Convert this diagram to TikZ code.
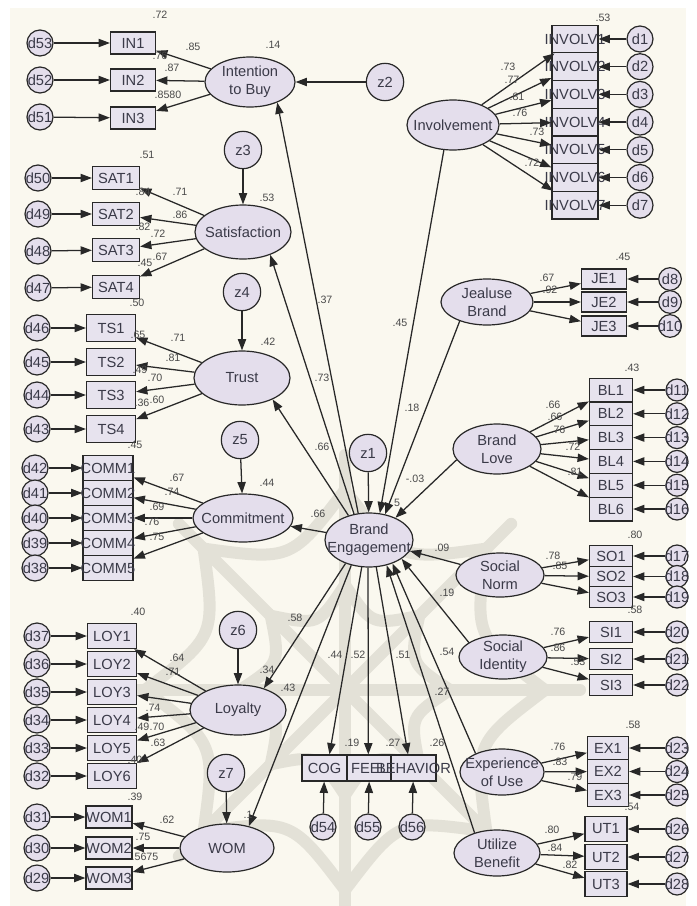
\documentclass[tikz,border=0pt]{standalone}
\usepackage{fontspec}
\setmainfont{Liberation Sans}
\usetikzlibrary{arrows.meta,shapes.geometric,calc}
\definecolor{bgcream}{HTML}{FAF8EF}
\definecolor{latfill}{HTML}{E4DEEC}
\definecolor{boxfill}{HTML}{E7E3EE}
\definecolor{linecol}{HTML}{282828}
\definecolor{txtcol}{HTML}{3A3A48}
\definecolor{labcol}{HTML}{4A4A4A}
\definecolor{wmark}{HTML}{E3E1D7}
\tikzset{
 lat/.style={ellipse, draw=linecol, line width=0.9pt, fill=latfill, inner sep=0pt},
 lattext/.style={font=\fontsize{11}{13.5}\selectfont, text=txtcol, align=center, inner sep=0pt},
 obs/.style={rectangle, draw=linecol, line width=0.9pt, fill=boxfill, inner sep=0pt},
 obstext/.style={font=\fontsize{11}{12}\selectfont, text=txtcol, inner sep=0pt},
 errc/.style={circle, draw=linecol, line width=0.9pt, fill=latfill, inner sep=0pt, minimum size=19.5pt},
 distc/.style={circle, draw=linecol, line width=0.9pt, fill=latfill, inner sep=0pt, minimum size=28pt},
 ctext/.style={font=\fontsize{11}{12}\selectfont, text=txtcol, inner sep=0pt},
 arr/.style={draw=linecol, line width=0.95pt, -{Triangle[length=8.5pt,width=6.2pt]}},
 coef/.style={font=\fontsize{8}{9}\selectfont, text=labcol, inner sep=0pt},
 wm/.style={draw=wmark, line width=9pt, line cap=round},
}
\newcommand\Lat[5]{\node[lat,minimum width=#3*0.75pt,minimum height=#4*0.75pt] (#1) at (#2) {};\node[lattext] (#1-t) at (#1) {#5};}
\newcommand\Obs[5]{\node[obs,minimum width=#3*0.75pt,minimum height=#4*0.75pt] (#1) at (#2) {};\node[obstext] (#1-t) at (#1) {#5};}
\newcommand\Err[4][]{\node[errc,#1] (#2) at (#3) {};\node[ctext] (#2-t) at (#2) {#4};}
\newcommand\Dist[3]{\node[distc] (#1) at (#2) {};\node[ctext] (#1-t) at (#1) {#3};}
\newcommand\Cf[3]{\node[coef] (#1) at (#2) {#3};}
\begin{document}
\begin{tikzpicture}[x=0.75pt,y=-0.75pt]
\useasboundingbox (0,0) rectangle (696,906);
\fill[white] (0,0) rectangle (696,906);
\fill[bgcream] (10,8) rectangle (686,906);
% ---- faint watermark ornament
\begin{scope}
\clip (10,8) rectangle (686,906);
\coordinate (wc) at (345,690);
\foreach \a in {0,45,...,315} \draw[wm] (wc) -- ($(wc)+(\a:235)$);
\foreach \a in {0,45,...,315} {
  \draw[wm] ($(wc)+(\a:105)$) .. controls ($(wc)+(\a+22.5:70)$) .. ($(wc)+(\a+45:105)$);
  \draw[wm] ($(wc)+(\a:200)$) .. controls ($(wc)+(\a+22.5:140)$) .. ($(wc)+(\a+45:200)$);
}
\end{scope}
% ---- latent variables
\Lat{itb}{250,82}{90}{50}{Intention\\to Buy}
\Lat{sat}{243,232}{96}{54}{Satisfaction}
\Lat{tr}{242,378}{96}{54}{Trust}
\Lat{com}{243,518}{100}{48}{Commitment}
\Lat{loy}{238,710}{96}{50}{Loyalty}
\Lat{wom}{227,848}{94}{48}{WOM}
\Lat{inv}{453,125}{92}{50}{Involvement}
\Lat{jb}{487,302}{92}{46}{Jealuse\\Brand}
\Lat{bl}{497,449}{88}{50}{Brand\\Love}
\Lat{sn}{500,575}{88}{44}{Social\\Norm}
\Lat{si}{503,657}{88}{44}{Social\\Identity}
\Lat{eu}{502,772}{84}{46}{Experience\\of Use}
\Lat{ub}{497,853}{86}{46}{Utilize\\Benefit}
\Lat{be}{369,540}{88}{54}{Brand\\Engagement}
% ---- disturbances
\Dist{z1}{368,453}{z1}
\Dist{z2}{385,82}{z2}
\Dist{z3}{243,150}{z3}
\Dist{z4}{242,292}{z4}
\Dist{z5}{240,440}{z5}
\Dist{z6}{238,630}{z6}
\Dist{z7}{226,773}{z7}
% ---- left indicators
\Obs{in1}{133,43}{45}{22}{IN1}
\Obs{in2}{133,80}{45}{22}{IN2}
\Obs{in3}{133,118}{45}{22}{IN3}
\Obs{sat1}{116,178}{47}{23}{SAT1}
\Obs{sat2}{116,214}{47}{23}{SAT2}
\Obs{sat3}{116,250}{47}{23}{SAT3}
\Obs{sat4}{116,287}{47}{23}{SAT4}
\Obs{ts1}{111,328}{49}{27}{TS1}
\Obs{ts2}{111,362}{49}{27}{TS2}
\Obs{ts3}{111,395}{49}{27}{TS3}
\Obs{ts4}{111,429}{49}{27}{TS4}
\Obs{cm1}{108,468}{50}{25}{COMM1}
\Obs{cm2}{108,493}{50}{25}{COMM2}
\Obs{cm3}{108,518}{50}{25}{COMM3}
\Obs{cm4}{108,543}{50}{25}{COMM4}
\Obs{cm5}{108,568}{50}{25}{COMM5}
\Obs{ly1}{112,636}{49}{25}{LOY1}
\Obs{ly2}{112,664}{49}{25}{LOY2}
\Obs{ly3}{112,692}{49}{25}{LOY3}
\Obs{ly4}{112,720}{49}{25}{LOY4}
\Obs{ly5}{112,748}{49}{25}{LOY5}
\Obs{ly6}{112,776}{49}{25}{LOY6}
\Obs{wm1}{109,817}{46}{22}{WOM1}
\Obs{wm2}{109,848}{46}{22}{WOM2}
\Obs{wm3}{109,878}{46}{22}{WOM3}
% ---- right indicators
\Obs{iv1}{575,39}{46}{27.7}{INVOLV1}
\Obs{iv2}{575,66.7}{46}{27.7}{INVOLV2}
\Obs{iv3}{575,94.4}{46}{27.7}{INVOLV3}
\Obs{iv4}{575,122.1}{46}{27.7}{INVOLV4}
\Obs{iv5}{575,149.8}{46}{27.7}{INVOLV5}
\Obs{iv6}{575,177.5}{46}{27.7}{INVOLV6}
\Obs{iv7}{575,205.2}{46}{27.7}{INVOLV7}
\Obs{je1}{604,279}{45}{20}{JE1}
\Obs{je2}{604,302}{45}{20}{JE2}
\Obs{je3}{604,326}{45}{20}{JE3}
\Obs{bl1}{611,390}{43}{23.8}{BL1}
\Obs{bl2}{611,413.8}{43}{23.8}{BL2}
\Obs{bl3}{611,437.6}{43}{23.8}{BL3}
\Obs{bl4}{611,461.4}{43}{23.8}{BL4}
\Obs{bl5}{611,485.2}{43}{23.8}{BL5}
\Obs{bl6}{611,509}{43}{23.8}{BL6}
\Obs{so1}{611,556}{43}{20.5}{SO1}
\Obs{so2}{611,576.5}{43}{20.5}{SO2}
\Obs{so3}{611,597}{43}{20.5}{SO3}
\Obs{si1}{611,632}{43}{21}{SI1}
\Obs{si2}{611,659}{43}{21}{SI2}
\Obs{si3}{611,685}{43}{21}{SI3}
\Obs{ex1}{608,748}{41}{23.5}{EX1}
\Obs{ex2}{608,771.5}{41}{23.5}{EX2}
\Obs{ex3}{608,795}{41}{23.5}{EX3}
\Obs{ut1}{606,829}{42}{25}{UT1}
\Obs{ut2}{606,857}{42}{25}{UT2}
\Obs{ut3}{606,884}{42}{25}{UT3}
% ---- engagement dimensions
\Obs{cog}{324.5,768}{45}{26}{COG}
\Obs{feel}{369.5,768}{45}{26}{FEEL}
\Obs{beh}{413.5,768}{45}{26}{BEHAVIOR}
% ---- error terms left
\Err{d53}{40,43}{d53}
\Err{d52}{40,80}{d52}
\Err{d51}{40,117}{d51}
\Err{d50}{38,178}{d50}
\Err{d49}{38,214}{d49}
\Err{d48}{38,251}{d48}
\Err{d47}{38,288}{d47}
\Err{d46}{37,328}{d46}
\Err{d45}{37,362}{d45}
\Err{d44}{37,395}{d44}
\Err{d43}{37,429}{d43}
\Err{d42}{35,468}{d42}
\Err{d41}{35,493}{d41}
\Err{d40}{35,518}{d40}
\Err{d39}{35,543}{d39}
\Err{d38}{35,568}{d38}
\Err{d37}{37,636}{d37}
\Err{d36}{37,664}{d36}
\Err{d35}{37,692}{d35}
\Err{d34}{37,720}{d34}
\Err{d33}{37,748}{d33}
\Err{d32}{37,776}{d32}
\Err{d31}{37,817}{d31}
\Err{d30}{37,848}{d30}
\Err{d29}{37,878}{d29}
% ---- error terms right
\Err{d1}{640,39}{d1}
\Err{d2}{640,66.7}{d2}
\Err{d3}{640,94.4}{d3}
\Err{d4}{640,122.1}{d4}
\Err{d5}{640,149.8}{d5}
\Err{d6}{640,177.5}{d6}
\Err{d7}{640,205.2}{d7}
\Err[minimum size=17pt]{d8}{670,279}{d8}
\Err[minimum size=17pt]{d9}{670,302}{d9}
\Err[minimum size=17pt]{d10}{670,326}{d10}
\Err[minimum size=16.5pt]{d11}{677,390}{d11}
\Err[minimum size=16.5pt]{d12}{677,413.8}{d12}
\Err[minimum size=16.5pt]{d13}{677,437.6}{d13}
\Err[minimum size=16.5pt]{d14}{677,461.4}{d14}
\Err[minimum size=16.5pt]{d15}{677,485.2}{d15}
\Err[minimum size=16.5pt]{d16}{677,509}{d16}
\Err[minimum size=16.5pt]{d17}{677,556}{d17}
\Err[minimum size=16.5pt]{d18}{677,576.5}{d18}
\Err[minimum size=16.5pt]{d19}{677,597}{d19}
\Err[minimum size=16.5pt]{d20}{677,632}{d20}
\Err[minimum size=16.5pt]{d21}{677,659}{d21}
\Err[minimum size=16.5pt]{d22}{677,685}{d22}
\Err[minimum size=16.5pt]{d23}{677,748}{d23}
\Err[minimum size=16.5pt]{d24}{677,771.5}{d24}
\Err[minimum size=16.5pt]{d25}{677,795}{d25}
\Err[minimum size=16.5pt]{d26}{677,829}{d26}
\Err[minimum size=16.5pt]{d27}{677,857}{d27}
\Err[minimum size=16.5pt]{d28}{677,884}{d28}
\Err{d54}{323,827}{d54}
\Err{d55}{368,827}{d55}
\Err{d56}{412,827}{d56}
% ---- error arrows
\foreach \d/\b in {d53/in1,d52/in2,d51/in3,d50/sat1,d49/sat2,d48/sat3,d47/sat4,d46/ts1,d45/ts2,d44/ts3,d43/ts4,d42/cm1,d41/cm2,d40/cm3,d39/cm4,d38/cm5,d37/ly1,d36/ly2,d35/ly3,d34/ly4,d33/ly5,d32/ly6,d31/wm1,d30/wm2,d29/wm3,d1/iv1,d2/iv2,d3/iv3,d4/iv4,d5/iv5,d6/iv6,d7/iv7,d8/je1,d9/je2,d10/je3,d11/bl1,d12/bl2,d13/bl3,d14/bl4,d15/bl5,d16/bl6,d17/so1,d18/so2,d19/so3,d20/si1,d21/si2,d22/si3,d23/ex1,d24/ex2,d25/ex3,d26/ut1,d27/ut2,d28/ut3,d54/cog,d55/feel,d56/beh}
  \draw[arr] (\d) -- (\b);
% ---- loadings
\foreach \b in {in1,in2,in3} \draw[arr] (itb) -- (\b);
\foreach \b in {sat1,sat2,sat3,sat4} \draw[arr] (sat) -- (\b);
\foreach \b in {ts1,ts2,ts3,ts4} \draw[arr] (tr) -- (\b);
\foreach \b in {cm1,cm2,cm3,cm4,cm5} \draw[arr] (com) -- (\b);
\foreach \b in {ly1,ly2,ly3,ly4,ly5,ly6} \draw[arr] (loy) -- (\b);
\foreach \b in {wm1,wm2,wm3} \draw[arr] (wom) -- (\b);
\foreach \b in {iv1,iv2,iv3,iv4,iv5,iv6,iv7} \draw[arr] (inv) -- (\b);
\foreach \b in {je1,je2,je3} \draw[arr] (jb) -- (\b);
\foreach \b in {bl1,bl2,bl3,bl4,bl5,bl6} \draw[arr] (bl) -- (\b);
\foreach \b in {so1,so2,so3} \draw[arr] (sn) -- (\b);
\foreach \b in {si1,si2,si3} \draw[arr] (si) -- (\b);
\foreach \b in {ex1,ex2,ex3} \draw[arr] (eu) -- (\b);
\foreach \b in {ut1,ut2,ut3} \draw[arr] (ub) -- (\b);
% ---- disturbances
\foreach \z/\l in {z1/be,z2/itb,z3/sat,z4/tr,z5/com,z6/loy,z7/wom} \draw[arr] (\z) -- (\l);
% ---- structural paths
\draw[arr] (be.112) -- (itb.-37);
\draw[arr] (be.120) -- (sat.-40);
\draw[arr] (be.130) -- (tr.-35);
\draw[arr] (be) -- (com);
\draw[arr] (be.-135) -- (loy.40);
\draw[arr] (be.-125) -- (wom.45);
\draw[arr] (be.-105) -- (cog.70);
\draw[arr] (be.-92) -- (feel.95);
\draw[arr] (be.-75) -- (beh.112);
\draw[arr] (inv.-110) -- (be.68);
\draw[arr] (jb.-145) -- (be.58);
\draw[arr] (bl.-165) -- (be.40);
\draw[arr] (sn) -- (be);
\draw[arr] (si.157) -- (be.-30);
\draw[arr] (eu.145) -- (be.-45);
\draw[arr] (ub.138) -- (be.-55);
% ---- coefficients
\Cf{c1}{160,15}{.72}
\Cf{c2}{193,47}{.85}
\Cf{c3}{160,56}{.76}
\Cf{c4}{172,68}{.87}
\Cf{c5}{168,95}{.8580}
\Cf{c6}{273,45}{.14}
\Cf{c7}{147,155}{.51}
\Cf{c8}{143,192}{.84}
\Cf{c9}{180,192}{.71}
\Cf{c10}{180,215}{.86}
\Cf{c11}{267,198}{.53}
\Cf{c12}{143,227}{.82}
\Cf{c13}{158,234}{.72}
\Cf{c14}{145,263}{.45}
\Cf{c15}{160,257}{.67}
\Cf{c16}{137,303}{.50}
\Cf{c17}{325,300}{.37}
\Cf{c18}{138,335}{.65}
\Cf{c19}{178,338}{.71}
\Cf{c20}{173,358}{.81}
\Cf{c21}{140,370}{.49}
\Cf{c22}{155,378}{.70}
\Cf{c23}{142,403}{.36}
\Cf{c24}{157,400}{.60}
\Cf{c25}{135,445}{.45}
\Cf{c26}{268,342}{.42}
\Cf{c27}{322,378}{.73}
\Cf{c28}{322,447}{.66}
\Cf{c29}{177,478}{.67}
\Cf{c30}{172,492}{.74}
\Cf{c31}{157,507}{.69}
\Cf{c32}{152,522}{.76}
\Cf{c33}{157,537}{.75}
\Cf{c34}{267,483}{.44}
\Cf{c35}{318,514}{.66}
\Cf{c36}{295,618}{.58}
\Cf{c37}{335,655}{.44}
\Cf{c38}{358,655}{.52}
\Cf{c39}{403,655}{.51}
\Cf{c40}{447,652}{.54}
\Cf{c41}{442,692}{.27}
\Cf{c42}{447,593}{.19}
\Cf{c43}{442,548}{.09}
\Cf{c44}{415,479}{-.03}
\Cf{c45}{412,408}{.18}
\Cf{c46}{400,323}{.45}
\Cf{c47}{397,503}{5}
\Cf{c48}{138,612}{.40}
\Cf{c49}{177,658}{.64}
\Cf{c50}{173,672}{.71}
\Cf{c51}{267,670}{.34}
\Cf{c52}{288,688}{.43}
\Cf{c53}{153,708}{.74}
\Cf{c54}{142,727}{.49}
\Cf{c55}{157,727}{.70}
\Cf{c56}{158,743}{.63}
\Cf{c57}{135,760}{.40}
\Cf{c58}{135,797}{.39}
\Cf{c59}{167,820}{.62}
\Cf{c60}{143,837}{.75}
\Cf{c61}{145,857}{.5675}
\Cf{c62}{248,815}{.1}
\Cf{c63}{352,743}{.19}
\Cf{c64}{393,743}{.27}
\Cf{c65}{437,743}{.26}
\Cf{c66}{603,18}{.53}
\Cf{c67}{508,67}{.73}
\Cf{c68}{512,80}{.77}
\Cf{c69}{517,97}{.81}
\Cf{c70}{520,113}{.76}
\Cf{c71}{537,132}{.73}
\Cf{c72}{532,163}{.72}
\Cf{c73}{623,257}{.45}
\Cf{c74}{547,278}{.67}
\Cf{c75}{550,290}{.92}
\Cf{c76}{632,368}{.43}
\Cf{c77}{553,405}{.66}
\Cf{c78}{555,417}{.66}
\Cf{c79}{558,430}{.76}
\Cf{c80}{573,447}{.72}
\Cf{c81}{575,472}{.81}
\Cf{c82}{635,535}{.80}
\Cf{c83}{553,556}{.78}
\Cf{c84}{560,566}{.85}
\Cf{c85}{635,610}{.58}
\Cf{c86}{558,632}{.76}
\Cf{c87}{558,648}{.86}
\Cf{c88}{578,662}{.53}
\Cf{c89}{633,725}{.58}
\Cf{c90}{558,747}{.76}
\Cf{c91}{560,762}{.83}
\Cf{c92}{575,777}{.79}
\Cf{c93}{632,807}{.54}
\Cf{c94}{552,830}{.80}
\Cf{c95}{555,848}{.84}
\Cf{c96}{570,865}{.82}
\end{tikzpicture}
\end{document}
